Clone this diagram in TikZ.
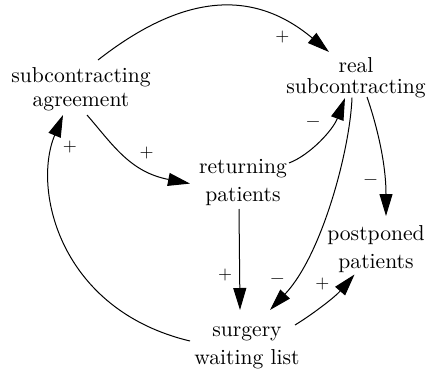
\documentclass[tikz,border=0pt]{standalone}
\usepackage{fontspec}
\newfontfamily\lmten{lmroman10-regular.otf}
\usetikzlibrary{arrows.meta}
\begin{document}
\begin{tikzpicture}[x=1pt,y=-1pt,
  var/.style={align=center,inner sep=0pt,font=\lmten\fontsize{21.6}{#1}\selectfont},
  var/.default=28,
  sign/.style={inner sep=0pt,anchor=base,font=\lmten\fontsize{18}{20}\selectfont},
  link/.style={line width=1pt,-{Triangle[length=22pt,width=13pt]}}]
\useasboundingbox (0,0) rectangle (428,372);

% variables
\node[var=24] (sa) at (81,89.6)   {subcontracting\\agreement};
\node[var=21] (rs) at (356,77.6)  {real\\subcontracting};
\node[var]    (rp) at (243,182.6) {returning\\patients};
\node[var]    (pp) at (376,248.6) {postponed\\patients};
\node[var]    (sw) at (247,348)   {surgery\\waiting list};

% causal links
\draw[link] ([shift={(17,-29.6)}]sa.center)
  .. controls (187,-9.7) and (256,-9) .. ([shift={(-27,-25.6)}]rs.center);
\draw[link] ([shift={(6,25.4)}]sa.center)
  .. controls (113,145) and (130,172) .. ([shift={(-53,1)}]rp.center);
\draw[link] ([shift={(46,-19.6)}]rp.center)
  .. controls (310,155) and (333,130) .. ([shift={(-11,20.4)}]rs.center);
\draw[link] ([shift={(-4,26.4)}]rp.center) -- ([shift={(-7,-38)}]sw.center);
\draw[link] ([shift={(-4,20)}]rs.center)
  .. controls (350,150) and (322,255) .. ([shift={(23,-38)}]sw.center);
\draw[link] ([shift={(11,19.4)}]rs.center)
  .. controls (375,120) and (386,160) .. ([shift={(10,-32.6)}]pp.center);
\draw[link] ([shift={(48,-23)}]sw.center)
  .. controls (313,314) and (335,297) .. ([shift={(-21.5,25.9)}]pp.center);
\draw[link] ([shift={(-57,-7)}]sw.center)
  .. controls (60,310) and (32,190) .. ([shift={(-18,25.4)}]sa.center);

% link polarities
\node[sign] (s1) at (282.3,41.2)  {+};
\node[sign] (s2) at (146.7,157.8) {+};
\node[sign] (s3) at (313,126.5)   {−};
\node[sign] (s4) at (225,279.5)   {+};
\node[sign] (s5) at (277.3,283)   {−};
\node[sign] (s6) at (370.7,184.5) {−};
\node[sign] (s7) at (322.3,288.5) {+};
\node[sign] (s8) at (70,151.8)    {+};
\end{tikzpicture}
\end{document}
